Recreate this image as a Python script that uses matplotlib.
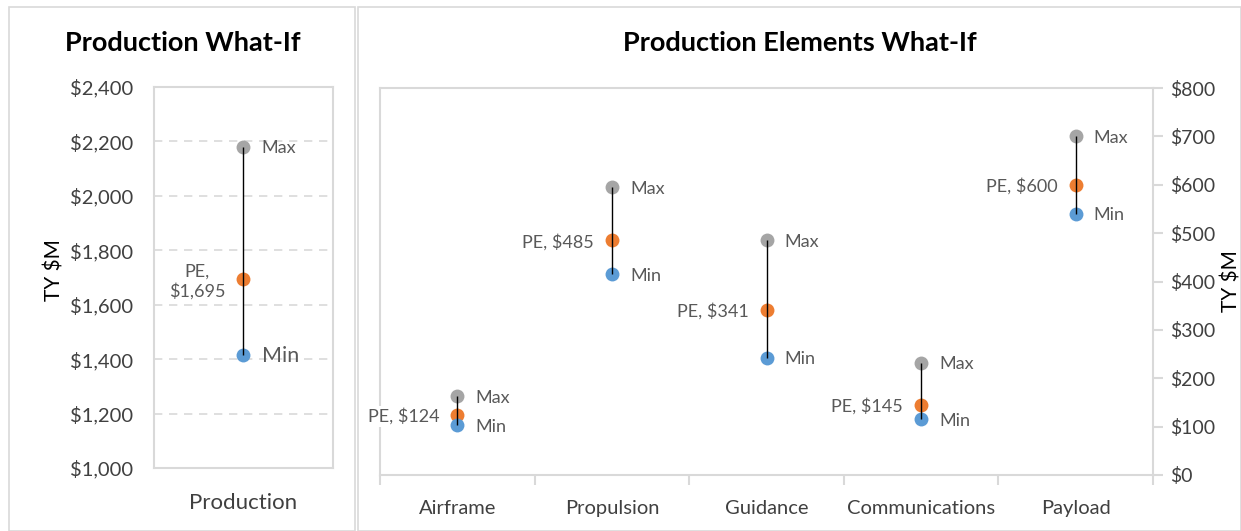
import matplotlib.pyplot as plt
from matplotlib.patches import Rectangle
from matplotlib.ticker import FuncFormatter

plt.rcParams['font.family'] = ['Lato', 'DejaVu Sans']

# Production (left panel)
prod_label = ["Production"]
prod_min = [1415]
prod_pe = [1695]
prod_max = [2180]

# Production elements (right panel)
elements = ["Airframe", "Propulsion", "Guidance", "Communications", "Payload"]
elem_min = [103, 415, 242, 115, 540]
elem_pe = [124, 485, 341, 145, 600]
elem_max = [163, 595, 485, 232, 700]

GRAY = "#A5A5A5"
ORANGE = "#ED7D31"
BLUE = "#5B9BD5"
TXT = "#595959"
EDGE = "#D9D9D9"

W, H = 1241, 531
fig = plt.figure(figsize=(W / 100, H / 100), dpi=100)

# panel frames
fig.patches.append(Rectangle((9 / W, 0), (355 - 9) / W, 1 - 7 / H, transform=fig.transFigure,
                             fill=False, edgecolor=EDGE, linewidth=1.2))
fig.patches.append(Rectangle((358 / W, 0), (W - 358) / W, 1 - 7 / H, transform=fig.transFigure,
                             fill=False, edgecolor=EDGE, linewidth=1.2))

money = FuncFormatter(lambda v, _: f"${v:,.0f}")


def draw_points(ax, xs, mins, pes, maxs, min_size=13, two_line=False):
    ax.vlines(xs, mins, maxs, color="black", linewidth=1, zorder=4)
    ax.scatter(xs, maxs, s=100, color=GRAY, zorder=3, linewidths=0)
    ax.scatter(xs, pes, s=100, color=ORANGE, zorder=3, linewidths=0)
    ax.scatter(xs, mins, s=100, color=BLUE, zorder=3, linewidths=0)
    for x, lo, pe, hi in zip(xs, mins, pes, maxs):
        ax.annotate("Max", (x, hi), xytext=(13, -1), textcoords="offset points",
                    ha="left", va="center", fontsize=13, color=TXT)
        ax.annotate("Min", (x, lo), xytext=(13, -1), textcoords="offset points",
                    ha="left", va="center", fontsize=min_size, color=TXT)
        if two_line:
            ax.annotate(f"PE,\n${pe:,.0f}", (x, pe), xytext=(-13, -2), textcoords="offset points",
                        ha="right", va="center", multialignment="center", fontsize=13,
                        color=TXT, linespacing=1.25)
        else:
            ax.annotate(f"PE, ${pe:,.0f}", (x, pe), xytext=(-13, -1), textcoords="offset points",
                        ha="right", va="center", fontsize=13, color=TXT,
                        bbox=dict(boxstyle="square,pad=0.1", fc="white", ec="none"))


# ---- left chart
ax1 = fig.add_axes([154 / W, 1 - 468 / H, (333 - 154) / W, (468 - 87) / H])
ax1.set_xlim(-0.5, 0.5)
ax1.set_ylim(1000, 2400)
ax1.set_yticks(range(1000, 2401, 200))
ax1.yaxis.set_major_formatter(money)
ax1.set_xticks([0])
ax1.set_xticklabels(prod_label)
ax1.tick_params(axis="both", length=0, labelsize=14.5, labelcolor="#404040")
ax1.tick_params(axis="y", pad=15)
ax1.tick_params(axis="x", pad=18, labelsize=16)
for y in range(1200, 2400, 200):
    ax1.axhline(y, color=EDGE, linestyle=(0, (5, 4)), linewidth=1.2, zorder=1)
for s in ax1.spines.values():
    s.set_color(EDGE)
    s.set_linewidth(1.5)
draw_points(ax1, [0], prod_min, prod_pe, prod_max, min_size=15.5, two_line=True)
fig.text(55 / W, 0.5 - 5 / H, "TY $M", rotation=90, ha="center", va="center", fontsize=15)
fig.text(183 / W, 1 - 43 / H, "Production What-If", ha="center", va="center",
         fontsize=19.5, fontweight="bold")

# ---- right chart
ax2 = fig.add_axes([380 / W, 1 - 475 / H, (1153 - 380) / W, (475 - 88) / H])
xs = list(range(len(elements)))
ax2.set_xlim(-0.5, len(elements) - 0.5)
ax2.set_ylim(0, 800)
ax2.set_yticks(range(0, 801, 100))
ax2.yaxis.set_major_formatter(money)
ax2.yaxis.tick_right()
ax2.set_xticks(xs)
ax2.set_xticklabels(elements)
ax2.set_xticks([x - 0.5 for x in range(len(elements) + 1)], minor=True)
ax2.tick_params(axis="x", which="major", length=0, pad=18, labelsize=14.5, labelcolor="#404040")
ax2.tick_params(axis="x", which="minor", length=7, width=1.5, color=EDGE, direction="out")
ax2.tick_params(axis="y", length=7, width=1.5, color=EDGE, direction="out", pad=5,
                labelsize=14, labelcolor="#404040")
for s in ax2.spines.values():
    s.set_color(EDGE)
    s.set_linewidth(1.5)
draw_points(ax2, xs, elem_min, elem_pe, elem_max)
fig.text(1231 / W, 1 - 281 / H, "TY $M", rotation=90, ha="center", va="center", fontsize=15)
fig.text(800 / W, 1 - 43 / H, "Production Elements What-If", ha="center", va="center",
         fontsize=19.5, fontweight="bold")

fig.savefig("out.png", dpi=100)
